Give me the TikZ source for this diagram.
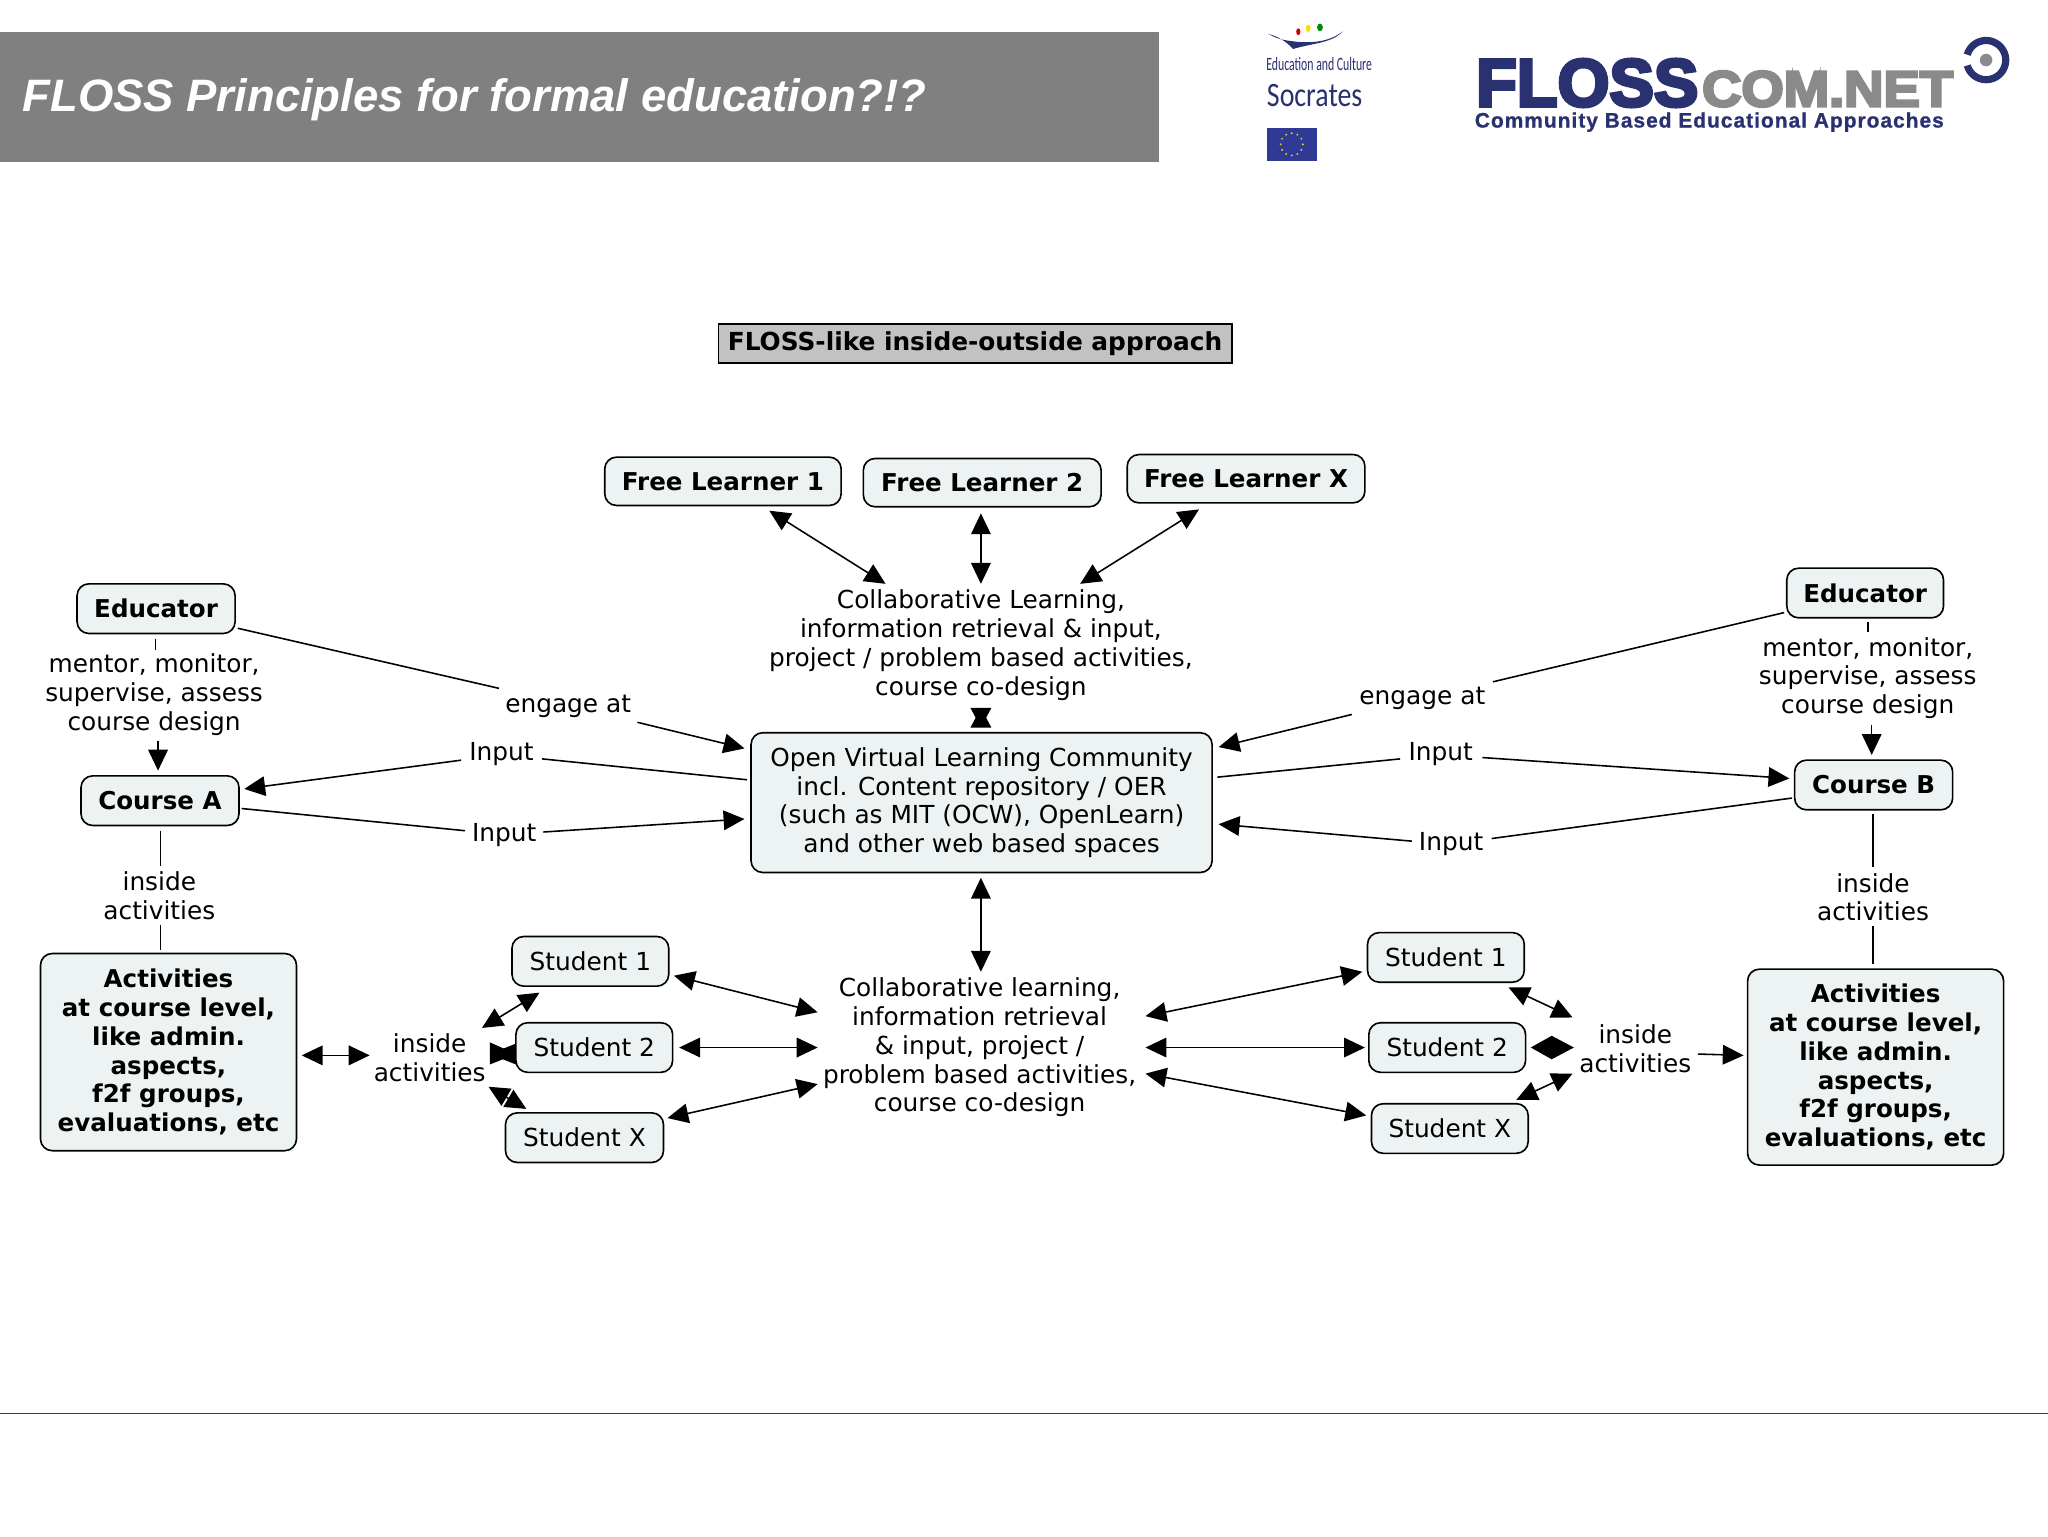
\documentclass[tikz,border=0pt]{standalone}
\usepackage{fontspec}
\usepackage{graphicx}
\setmainfont{DejaVu Sans}
\newfontfamily\titlefont{Liberation Sans}
\newfontfamily\logofont[FakeBold=5]{Liberation Sans Bold}
\newfontfamily\subfont[FakeBold=1,LetterSpace=5]{Liberation Sans Bold}
\newfontfamily\eufont{Carlito}
\usetikzlibrary{arrows.meta}
\definecolor{boxfill}{HTML}{EDF3F3}
\definecolor{navy}{HTML}{2A3170}
\definecolor{logogray}{HTML}{8A8A8A}
\definecolor{eublue}{HTML}{2F3A94}
\newcommand\pt[3]{([shift={(#2,#3)}]#1.center)}
\tikzset{
  x=1pt,y=-1pt,
  bx/.style={draw=black,line width=1.25pt,fill=boxfill,rounded corners=9pt,align=center,inner sep=0pt,font=\fontsize{19}{22}\selectfont},
  bxb/.style={bx,font=\fontsize{18.8}{22}\selectfont\bfseries},
  lbl/.style={align=center,inner sep=0pt,font=\fontsize{19}{22}\selectfont},
  ln/.style={draw=black,line width=1.2pt},
  ar/.style={ln,-{Triangle[length=16pt,width=15pt]}},
  dbl/.style={ln,{Triangle[length=16pt,width=15pt]}-{Triangle[length=16pt,width=15pt]}},
  logo/.style={inner sep=0pt,anchor=south west},
}
\begin{document}
\begin{tikzpicture}
\useasboundingbox (0,0) rectangle (1568,1176);
\fill[white] (0,0) rectangle (1568,1176);
% header
\node[fill=black!50,minimum width=887pt,minimum height=100pt,inner sep=0pt,anchor=north west] (hdr) at (0,24) {};
\node[anchor=west,inner sep=0pt,text=white,font=\titlefont\fontsize{34.8}{40}\selectfont\bfseries\itshape] (ttl) at (17,76) {FLOSS Principles for formal education?!?};
% Socrates logo
\fill[navy] (971,26) .. controls (980,31) and (986,31) .. (993,32) .. controls (1005,33) and (1018,32) .. (1028,24) .. controls (1020,33) and (1005,33) .. (990,37.5) .. controls (985,32) and (979,28) .. (971,26) -- cycle;
\fill[red!80!black] (994,24.3) ellipse [x radius=1.6,y radius=2.6];
\fill[yellow!80!orange] (1001.6,21.7) ellipse [x radius=1.8,y radius=2.8];
\fill[green!55!black] (1010.6,21) ellipse [x radius=2.2,y radius=3];
\node[inner sep=0pt,text=navy] (educ) at (1010,49) {\resizebox{81pt}{10pt}{\eufont Education and Culture}};
\node[inner sep=0pt,text=navy] (socr) at (1006.5,73) {\resizebox{73pt}{17pt}{\eufont Socrates}};
\fill[eublue] (970,98) rectangle (1008,123);
\foreach \a in {0,30,...,330} \fill[yellow!85!black] (989,110.5) ++(\a:8.5 and -8.5) circle (0.8);
% FLOSScom logo
\node[logo,text=navy] (floss) at (1130,82) {\resizebox{170pt}{36pt}{\logofont FLOSS}};
\node[logo,text=logogray] (comnet) at (1303,82) {\resizebox{192pt}{27pt}{\logofont COM.NET}};
\node[inner sep=0pt,anchor=west,text=navy] (comm) at (1129,93.5) {\resizebox{359pt}{!}{\subfont Community Based Educational Approaches}};
\draw[navy,line width=5.5pt] plot[domain=16:344,samples=70] ({1520.6-15*cos(\x)},{46+15*sin(\x)});
\fill[logogray] (1520.6,46) circle (4.8);
% bottom rule
\draw[black!75,line width=1pt] (0,1082) coordinate (ra) -- (1568,1082) coordinate (rb);
% heading
\node[draw=black,line width=1.25pt,fill=black!24,minimum width=393pt,minimum height=30pt,inner sep=0pt,font=\fontsize{19}{22}\selectfont\bfseries] (head) at (746.5,263) {FLOSS-like inside-outside approach};
% boxes
\newcommand\bb[6][bxb]{\node[#1,minimum width=#5pt,minimum height=#6pt] (#2) at #3 {#4};}
\bb{fla}{(553.5,368.5)}{Free Learner 1}{181}{37}
\bb{flb}{(752,369.5)}{Free Learner 2}{182}{37}
\bb{flx}{(954,366.5)}{Free Learner X}{182}{37}
\bb[bx]{ovlc}{(751.5,614.5)}{Open Virtual Learning Community\\incl. Content repository / OER\\(such as MIT (OCW), OpenLearn)\\and other web based spaces}{353}{107}
\bb{EdL}{(119.5,466)}{Educator}{121}{38}
\bb{CA}{(122.5,613)}{Course A}{121}{38}
\bb{ActL}{(129,805.5)}{Activities\\at course level,\\like admin.\\aspects,\\f2f groups,\\evaluations, etc}{196}{151}
\bb[bx]{SaL}{(452,736)}{Student 1}{120}{38}
\bb[bx]{SbL}{(455,802)}{Student 2}{120}{38}
\bb[bx]{SxL}{(447.5,871)}{Student X}{121}{38}
\bb[bx]{SaR}{(1107,733)}{Student 1}{120}{38}
\bb[bx]{SbR}{(1108,802)}{Student 2}{120}{38}
\bb[bx]{SxR}{(1110,864)}{Student X}{120}{38}
\bb{ActR}{(1436,817)}{Activities\\at course level,\\like admin.\\aspects,\\f2f groups,\\evaluations, etc}{196}{150}
\bb{CB}{(1434.5,601)}{Course B}{121}{38}
\bb{EdR}{(1428,454)}{Educator}{120}{38}
% labels
\node[lbl] (colT) at (751,494) {Collaborative Learning,\\information retrieval \& input,\\project / problem based activities,\\course co-design};
\node[lbl] (colB) at (750,802) {Collaborative learning,\\information retrieval\\\& input, project /\\problem based activities,\\course co-design};
\node[lbl] (menL) at (118,532) {mentor, monitor,\\supervise, assess\\course design};
\node[lbl] (menR) at (1430,519) {mentor, monitor,\\supervise, assess\\course design};
\node[lbl] (insL) at (122,686) {inside\\activities};
\node[lbl] (insR) at (1434,687) {inside\\activities};
\node[lbl] (insML) at (329,810) {inside\\activities};
\node[lbl] (insMR) at (1252,803) {inside\\activities};
\node[lbl] (engL) at (435,541) {engage at};
\node[lbl] (engR) at (1089,535) {engage at};
\node[lbl] (inLa) at (384,577) {Input};
\node[lbl] (inLb) at (386,639) {Input};
\node[lbl] (inRa) at (1103,577) {Input};
\node[lbl] (inRb) at (1111,646) {Input};
% left side
\draw[ln] \pt{EdL}{-.5}{23} -- \pt{menL}{1}{-34};
\draw[ar] \pt{menL}{3}{35} -- \pt{CA}{-1.5}{-23};
\draw[ln] \pt{CA}{.5}{23} -- \pt{insL}{1}{-23};
\draw[ln] \pt{insL}{1}{22} -- \pt{ActL}{-6}{-78.5};
\draw[ln] \pt{EdL}{62.5}{15} -- \pt{engL}{-53}{-14};
\draw[ar] \pt{engL}{53}{12} -- \pt{ovlc}{-181.5}{-41.5};
\draw[ln] \pt{ovlc}{-179.5}{-17.5} -- \pt{inLa}{31}{4};
\draw[ar] \pt{inLa}{-31}{5} -- \pt{CA}{64.5}{-9};
\draw[ln] \pt{CA}{62.5}{6} -- \pt{inLb}{-30}{-3};
\draw[ar] \pt{inLb}{30}{-2} -- \pt{ovlc}{-181.5}{12.5};
% free learners
\draw[dbl] \pt{fla}{35.5}{22.5} -- \pt{colT}{-73}{-47};
\draw[dbl] \pt{flb}{-1}{23.5} -- \pt{colT}{0}{-47};
\draw[dbl] \pt{flx}{-36}{23.5} -- \pt{colT}{76}{-47};
% hourglass: the two tips of a link too short for its heads
\fill[black] \pt{colT}{-8}{48} -- \pt{colT}{8}{48} -- \pt{ovlc}{-.5}{-57.5} -- cycle;
\fill[black] \pt{ovlc}{-8.5}{-57.5} -- \pt{ovlc}{7.5}{-57.5} -- \pt{colT}{0}{48} -- cycle;
\draw[dbl] \pt{ovlc}{-.5}{57.5} -- \pt{colB}{1}{-58};
% students left
\draw[dbl] \pt{SaL}{64}{11} -- \pt{colB}{-124}{-27};
\draw[dbl] \pt{SbL}{65}{0} -- \pt{colB}{-124}{0};
\draw[dbl] \pt{SxL}{63.5}{-15} -- \pt{colB}{-124}{28};
\draw[dbl] \pt{SaL}{-39}{24} -- \pt{insML}{40}{-23};
% bowtie
\fill[black] \pt{insML}{46}{-12} -- \pt{insML}{46}{5} -- \pt{SbL}{-60}{5} -- cycle;
\fill[black] \pt{SbL}{-60}{-3} -- \pt{SbL}{-60}{13} -- \pt{insML}{46}{-3} -- cycle;
\draw[dbl] \pt{SxL}{-44.5}{-22} -- \pt{insML}{45}{22};
\draw[dbl] \pt{ActL}{102}{2.5} -- \pt{insML}{-46}{-2};
% students right
\draw[dbl] \pt{colB}{127}{-24} -- \pt{SaR}{-64}{11};
\draw[dbl] \pt{colB}{127}{0} -- \pt{SbR}{-63}{0};
\draw[dbl] \pt{colB}{127}{20} -- \pt{SxR}{-64}{-10};
\draw[dbl] \pt{SaR}{48}{23} -- \pt{insMR}{-48}{-24};
% diamond
\fill[black] \pt{SbR}{64}{0} -- \pt{SbR}{80}{-9} -- \pt{insMR}{-47}{-1} -- \pt{SbR}{80}{9} -- cycle;
\draw[dbl] \pt{SxR}{51}{-22} -- \pt{insMR}{-48}{19};
\draw[ar] \pt{insMR}{48}{4} -- \pt{ActR}{-101}{-9};
% right side
\draw[ln] \pt{CB}{-.5}{22} -- \pt{insR}{0}{-23};
\draw[ln] \pt{insR}{0}{22} -- \pt{ActR}{-2}{-79};
\draw[ln] \pt{EdR}{2}{22} -- \pt{menR}{0}{-35};
\draw[ar] \pt{menR}{3}{36} -- \pt{CB}{-1.5}{-23};
\draw[ln] \pt{EdR}{-62}{15} -- \pt{engR}{54}{-13};
\draw[ar] \pt{engR}{-54}{12} -- \pt{ovlc}{181.5}{-42.5};
\draw[ln] \pt{ovlc}{180.5}{-19.5} -- \pt{inRa}{-31}{4};
\draw[ar] \pt{inRa}{32}{3} -- \pt{CB}{-64.5}{-5};
\draw[ln] \pt{CB}{-62.5}{10} -- \pt{inRb}{31}{-4};
\draw[ar] \pt{inRb}{-30}{-2} -- \pt{ovlc}{181.5}{16.5};
\end{tikzpicture}
\end{document}
